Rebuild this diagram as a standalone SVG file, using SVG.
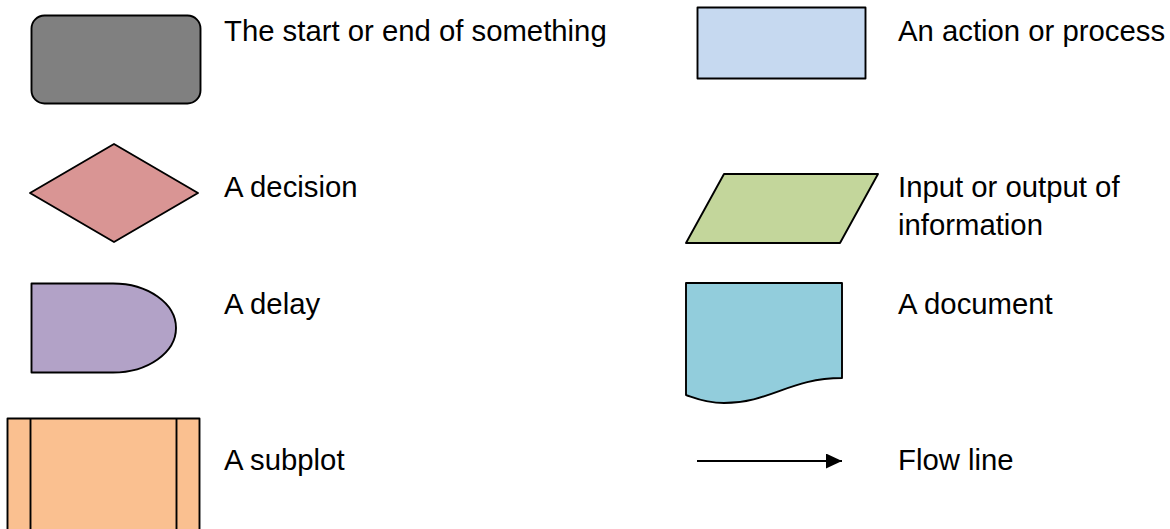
<svg xmlns="http://www.w3.org/2000/svg" width="1170" height="529" viewBox="0 0 1170 529">
<style>
.s{stroke:#000;stroke-width:1.9;stroke-linejoin:round}
text{font-family:"Liberation Sans",Arial,sans-serif;font-size:29.3px;fill:#000}
</style>
<defs>
<marker id="ah" markerWidth="17" markerHeight="15" refX="16" refY="7.5" orient="auto" markerUnits="userSpaceOnUse">
<path d="M0,0 L16,7.5 L0,15 Z" fill="#000"/>
</marker>
</defs>
<rect width="1170" height="529" fill="#fff"/>
<g id="terminal">
<rect class="s" x="31.5" y="15.5" width="169" height="88" rx="13" fill="#808080"/>
<text x="224" y="41">The start or end of something</text>
</g>
<g id="process">
<rect class="s" x="697.5" y="7.5" width="168" height="71" fill="#c6d9f0"/>
<text x="898" y="41">An action or process</text>
</g>
<g id="decision">
<polygon class="s" points="30,193 114,144 198,193 114,242" fill="#d99594"/>
<text x="224" y="197">A decision</text>
</g>
<g id="io">
<polygon class="s" points="724,174 878,174 840,243 686,243" fill="#c3d69b"/>
<text x="898" y="197">Input or output of</text>
<text x="898" y="235">information</text>
</g>
<g id="delay">
<path class="s" d="M31.5,283.5 L113,283.5 A63,44.5 0 0 1 113,372.5 L31.5,372.5 Z" fill="#b2a2c7"/>
<text x="224" y="314">A delay</text>
</g>
<g id="document">
<path class="s" d="M686,283 L842,283 L842,378 C790,378 770,403 724,403 C705,403 695,398 686,395 Z" fill="#92cddc"/>
<text x="898" y="314">A document</text>
</g>
<g id="subplot">
<rect class="s" x="7.5" y="418.5" width="192" height="120" fill="#fac090"/>
<line class="s" x1="30.5" y1="418.5" x2="30.5" y2="529"/>
<line class="s" x1="176.5" y1="418.5" x2="176.5" y2="529"/>
<text x="224" y="470">A subplot</text>
</g>
<g id="connectors">
<line x1="697" y1="461" x2="842" y2="461" stroke="#000" stroke-width="1.9" marker-end="url(#ah)"/>
</g>
<g id="flowline-label">
<text x="898" y="470">Flow line</text>
</g>
</svg>
